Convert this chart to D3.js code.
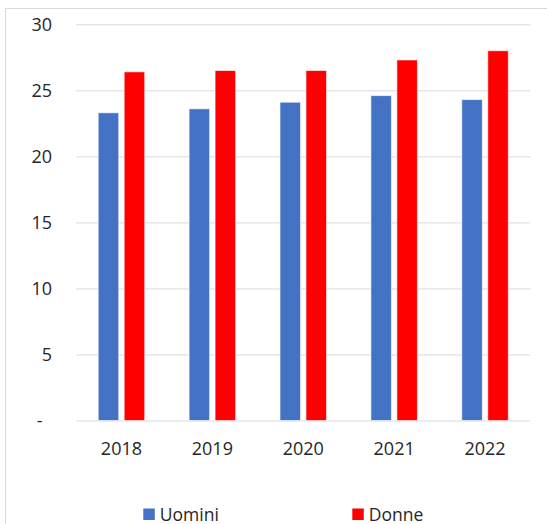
<!DOCTYPE html>
<html>
<head>
<meta charset="utf-8">
<script src="https://cdn.jsdelivr.net/npm/d3@7"></script>
<style>
  body { margin: 0; background: #fff; }
  text { font-family: "Open Sans", sans-serif; fill: #262626; }
</style>
</head>
<body>
<div class="chart"></div>
<script>
// data
var years = ["2018", "2019", "2020", "2021", "2022"];
var series = ["Uomini", "Donne"];
var uomini = [23.3, 23.6, 24.1, 24.6, 24.3];
var donne = [26.4, 26.5, 26.5, 27.3, 28.0];
var yTicks = [0, 5, 10, 15, 20, 25, 30];
var yTickLabels = ["-", "5", "10", "15", "20", "25", "30"];

var colors = { "Uomini": "#4472c4", "Donne": "#ff0000" };

var width = 547, height = 524;
var plot = { left: 76, right: 530.5, top: 24.3, bottom: 420.5 };

var svg = d3.select('.chart')
  .append('svg')
    .attr('width', width)
    .attr('height', height);

// outer chart border (runs off the right and bottom edge)
svg.append('rect')
  .attr('x', 5.5).attr('y', 8.5)
  .attr('width', 700).attr('height', 700)
  .attr('fill', 'none')
  .attr('stroke', '#d9d9d9');

var x = d3.scaleBand()
  .domain(years)
  .range([plot.left, plot.right]);

var xSub = d3.scaleBand()
  .domain(series)
  .range([22.2, 68.7])
  .paddingInner(0.21);

var y = d3.scaleLinear()
  .domain([0, 30])
  .range([plot.bottom, plot.top]);

// y axis with gridlines
var yAxis = svg.append('g')
  .attr('transform', 'translate(' + plot.left + ',0)')
  .call(d3.axisLeft(y)
    .tickValues(yTicks)
    .tickFormat((d, i) => yTickLabels[i])
    .tickSize(-(plot.right - plot.left))
    .tickPadding(24));
yAxis.select('.domain').remove();
yAxis.selectAll('line').attr('stroke', '#d9d9d9');
yAxis.selectAll('text')
  .style('font-size', '18px')
  .attr('fill', '#262626');
// zero label "-" sits a bit further left (accounting format)
yAxis.selectAll('.tick').filter(d => d === 0).select('text')
  .attr('x', -33.5);

// x axis labels
var xAxis = svg.append('g')
  .attr('transform', 'translate(0,' + plot.bottom + ')')
  .call(d3.axisBottom(x).tickSize(0).tickPadding(22));
xAxis.select('.domain').remove();
xAxis.selectAll('text')
  .style('font-size', '18px')
  .attr('fill', '#262626');

// bars
var rows = years.map((yr, i) => ({ year: yr, Uomini: uomini[i], Donne: donne[i] }));

svg.append('g')
  .selectAll('g')
  .data(rows)
  .enter().append('g')
    .attr('transform', d => 'translate(' + x(d.year) + ',0)')
  .selectAll('rect')
  .data(d => series.map(s => ({ key: s, value: d[s] })))
  .enter().append('rect')
    .attr('x', d => xSub(d.key))
    .attr('y', d => y(d.value))
    .attr('width', xSub.bandwidth())
    .attr('height', d => y(0) - y(d.value))
    .attr('fill', d => colors[d.key])
    .attr('stroke', '#ffffff')
    .attr('stroke-opacity', 0.6)
    .attr('stroke-width', 1);

// legend
var legendX = [143.3, 352.3];
var legend = svg.append('g')
  .selectAll('g')
  .data(series)
  .enter().append('g')
    .attr('transform', (d, i) => 'translate(' + legendX[i] + ',508.5)');

legend.append('rect')
  .attr('width', 11.5)
  .attr('height', 11.5)
  .attr('fill', d => colors[d]);

legend.append('text')
  .attr('x', 16.5)
  .attr('y', 12)
  .style('font-size', '17.5px')
  .text(d => d);
</script>
</body>
</html>
